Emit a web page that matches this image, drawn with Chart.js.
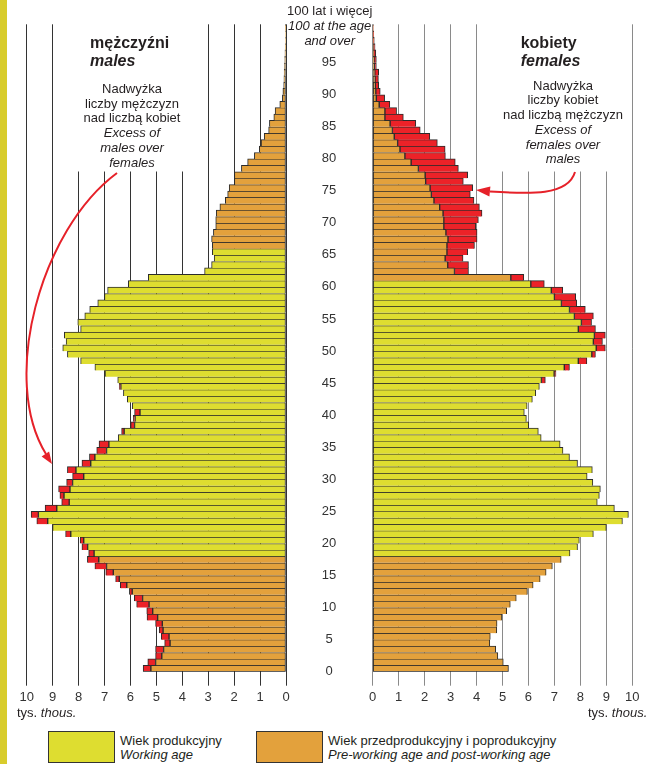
<!DOCTYPE html>
<html><head><meta charset="utf-8">
<script src="https://cdn.jsdelivr.net/npm/chart.js@4.4.1/dist/chart.umd.min.js"></script>
<style>
body{margin:0;background:#fff;}
#wrap{position:relative;width:649px;height:764px;overflow:hidden;font-family:"Liberation Sans",Arial,sans-serif;color:#231f20;}
.abs{position:absolute;white-space:nowrap;}
canvas{position:absolute;top:0;}
.t13{font-size:13px;line-height:14.7px;}
.ttl{font-size:16px;line-height:18px;font-weight:bold;}
.box{position:absolute;border:1px solid #333;box-sizing:border-box;}
</style></head>
<body>
<div id="wrap">
  <div class="abs" style="left:0;top:0;width:7px;height:764px;background:#d8cc2c;"></div>
  <canvas id="cm" width="300" height="720" style="left:0;width:300px;height:720px;"></canvas>
  <canvas id="cf" width="349" height="720" style="left:300px;width:349px;height:720px;"></canvas>

  <div class="abs" style="left:249.7px;top:2.5px;width:160px;text-align:center;font-size:13px;line-height:15px;">100 lat i więcej<br><i>100 at the age</i><br><i>and over</i></div>

  <div class="abs ttl" style="left:90px;top:34px;">mężczyźni<br><i>males</i></div>
  <div class="abs ttl" style="left:520.7px;top:34px;">kobiety<br><i>females</i></div>

  <div class="abs t13" style="left:62px;top:82px;width:140px;text-align:center;">Nadwyżka<br>liczby mężczyzn<br>nad liczbą kobiet<br><i>Excess of<br>males over<br>females</i></div>
  <div class="abs t13" style="left:493px;top:78.7px;width:140px;text-align:center;">Nadwyżka<br>liczby kobiet<br>nad liczbą mężczyzn<br><i>Excess of<br>females over<br>males</i></div>

  <div class="abs t13" style="left:17px;top:705.5px;">tys. <i>thous.</i></div>
  <div class="abs t13" style="left:588px;top:705.5px;">tys. <i>thous.</i></div>

  <div class="box" style="left:48px;top:731px;width:67px;height:32px;background:#dedd30;"></div>
  <div class="abs t13" style="left:120px;top:734px;line-height:14px;">Wiek produkcyjny<br><i>Working age</i></div>
  <div class="box" style="left:256px;top:731px;width:67px;height:32px;background:#e3a13c;"></div>
  <div class="abs t13" style="left:328px;top:734px;line-height:14px;">Wiek przedprodukcyjny i poprodukcyjny<br><i>Pre-working age and post-working age</i></div>

  <svg class="abs" style="left:0;top:0;" width="649" height="764" viewBox="0 0 649 764">
    <path d="M117,173 C40,230 0,380 46,454" fill="none" stroke="#e62129" stroke-width="2"/>
    <polygon points="52,464 41.6,456.5 49.1,451.5" fill="#e62129"/>
    <path d="M575,172 C568,196 530,194 490,191.5" fill="none" stroke="#e62129" stroke-width="2"/>
    <polygon points="476,190 490.4,186.5 489.4,196.5" fill="#e62129"/>
  </svg>
</div>
<script>
// Ages (categories)
const ages = [0,1,2,3,4,5,6,7,8,9,10,11,12,13,14,15,16,17,18,19,20,21,22,23,24,25,26,27,28,29,30,31,32,33,34,35,36,37,38,39,40,41,42,43,44,45,46,47,48,49,50,51,52,53,54,55,56,57,58,59,60,61,62,63,64,65,66,67,68,69,70,71,72,73,74,75,76,77,78,79,80,81,82,83,84,85,86,87,88,89,90,91,92,93,94,95,96,97,98,99,100];
const ageTickLabels = [0,5,10,15,20,25,30,35,40,45,50,55,60,65,70,75,80,85,90,95];
const xTickValues = [0,1,2,3,4,5,6,7,8,9,10];

// Males, thousands (total bar length) and the red "excess" part
const males = [5.51,5.33,5.03,5.03,4.68,4.81,4.89,5.03,5.36,5.37,
  5.76,5.85,6.04,6.39,6.57,6.95,7.37,7.66,7.61,7.87,
  7.94,8.50,9.00,9.61,9.83,9.29,8.65,8.72,8.77,8.46,
  8.23,8.43,7.87,7.58,7.30,7.21,6.47,6.34,5.99,5.89,
  5.84,5.93,6.12,6.27,6.43,6.49,6.98,7.37,7.92,8.43,
  8.61,8.48,8.55,7.92,8.03,7.76,7.57,7.26,7.00,6.88,
  6.08,5.31,3.14,2.87,2.77,2.84,2.84,2.87,2.80,2.71,
  2.71,2.69,2.55,2.34,2.25,2.19,1.99,1.99,1.72,1.48,
  1.22,1.03,0.96,0.84,0.67,0.64,0.47,0.42,0.24,0.14,
  0.12,0.09,0.08,0.07,0.06,0.05,0.04,0.03,0.02,0.02,
  0.01];
const malesExcess = [0.30,0.30,0.24,0.31,0.21,0.30,0.15,0.26,0.41,0.23,
  0.48,0.32,0.11,0.25,0.14,0.29,0.45,0.44,0.21,0.22,
  0.14,0.20,0,0.42,0.28,0.45,0.29,0.16,0.44,0.23,
  0.43,0.33,0.34,0.21,0.38,0.38,0,0.10,0.15,0.07,
  0.21,0,0,0,0.06,0,0,0,0,0,
  0,0,0,0,0,0,0,0,0,0,
  0,0,0,0,0,0,0,0,0,0,
  0,0,0,0,0,0,0,0,0,0,
  0,0,0,0,0,0,0,0,0,0,
  0,0,0,0,0,0,0,0,0,0,
  0];

// Females, thousands (total bar length) and the red "excess" part
const females = [5.23,5.03,4.82,4.74,4.51,4.53,4.78,4.79,4.98,5.16,
  5.30,5.53,5.96,6.18,6.45,6.68,6.92,7.26,7.60,7.89,
  7.96,8.50,9.00,9.62,9.85,9.31,8.65,8.73,8.77,8.48,
  8.26,8.46,7.89,7.58,7.33,7.22,6.49,6.38,6.01,5.92,
  5.84,5.95,6.15,6.28,6.42,6.65,7.06,7.58,8.25,8.58,
  8.96,8.85,8.96,8.58,8.43,8.50,8.19,7.86,7.82,7.32,
  6.61,5.82,3.69,3.69,3.48,3.66,3.92,4.02,4.02,3.97,
  4.07,4.21,4.11,3.90,3.76,3.85,3.49,3.66,3.30,3.18,
  2.80,2.79,2.49,2.20,1.83,1.66,1.18,0.92,0.66,0.46,
  0.29,0.23,0.22,0.23,0.14,0.14,0.12,0.09,0.06,0.04,
  0.02];
const femalesExcess = [0,0,0,0,0,0,0,0,0,0,
  0,0,0,0,0,0,0,0,0,0,
  0,0,0,0,0,0,0,0,0,0,
  0,0,0,0,0,0,0,0,0,0,
  0,0,0,0,0,0.15,0.07,0.20,0.33,0.14,
  0.35,0.35,0.42,0.66,0.39,0.73,0.61,0.59,0.82,0.44,
  0.52,0.50,0.54,0.80,0.69,0.80,1.06,1.12,1.20,1.23,
  1.33,1.50,1.53,1.54,1.50,1.64,1.45,1.64,1.54,1.70,
  1.56,1.74,1.53,1.37,1.07,0.99,0.71,0.45,0.41,0.32,
  0.17,0.13,0.13,0.15,0.08,0.09,0.09,0.07,0.04,0.03,
  0.01];

// Working-age ranges as coloured in the picture
const maleWorkingAge = [18, 65];
const femaleWorkingAge = [18, 60];

const YELLOW = '#dedd30', ORANGE = '#e3a13c', RED = '#ec2228', EDGE = '#2b2b2b';
const FONT = '"Liberation Sans", Arial, sans-serif';

function baseOf(tot, exc) { return tot.map((v, i) => +(v - exc[i]).toFixed(2)); }
function excOf(exc) { return exc.map(v => v > 0 ? v : null); }
function colorsFor(range) { return ages.map(a => (a >= range[0] && a <= range[1]) ? YELLOW : ORANGE); }
const bw = ctx => ({top: 1, left: 1, right: 1, bottom: ctx.dataIndex === 0 ? 1 : 0});

function maskPlugin(r) {
  return { id: 'mask', beforeDatasetsDraw(chart) {
    const c = chart.ctx; c.save(); c.fillStyle = '#fff'; c.fillRect(r.x, r.y, r.w, r.h); c.restore();
  }};
}

function makeChart(id, tot, exc, range, isMale) {
  const labels = ages.map(String);
  const yScale = isMale ? {
      type: 'category', labels, reverse: true, stacked: true, display: false, offset: true
    } : {
      type: 'category', labels, reverse: true, stacked: true, position: 'left', offset: true,
      grid: {display: false, drawTicks: false}, border: {display: false},
      ticks: {autoSkip: false, color: '#333', font: {size: 13, family: FONT}, crossAlign: 'center',
        padding: 36.4, labelOffset: 3,
        callback: (v) => ageTickLabels.includes(ages[v]) ? String(ages[v]) : ''},
      afterFit: s => { s.width = 72.7; s.paddingTop = 0; s.paddingBottom = 0; }
    };
  return new Chart(document.getElementById(id), {
    type: 'bar',
    data: { labels, datasets: [
      { data: baseOf(tot, exc), backgroundColor: colorsFor(range), borderColor: EDGE, borderWidth: bw,
        borderSkipped: false, barPercentage: 1, categoryPercentage: 1, stack: 's' },
      { data: excOf(exc), backgroundColor: RED, borderColor: EDGE, borderWidth: bw,
        borderSkipped: false, barPercentage: 1, categoryPercentage: 1, stack: 's' }
    ]},
    options: {
      indexAxis: 'y', responsive: false, animation: false, devicePixelRatio: 1,
      layout: { padding: isMale ? {left: 26.7, right: 14, top: 24.3, bottom: 0} : {left: 0, right: 16.7, top: 24.3, bottom: 0} },
      plugins: { legend: {display: false}, tooltip: {enabled: false} },
      scales: {
        x: { type: 'linear', min: 0, max: 10, reverse: isMale, stacked: true,
          afterBuildTicks: s => { s.ticks = xTickValues.map(v => ({value: v})); },
          ticks: {color: '#333', font: {size: 13, family: FONT}, padding: 4, maxRotation: 0, autoSkip: false},
          grid: {color: isMale ? '#333' : '#8a8a8a', lineWidth: 1, drawTicks: true, tickLength: 14},
          border: {display: false},
          afterFit: s => { s.height = 48.3; } },
        y: yScale
      }
    },
    plugins: [maskPlugin(isMale ? {x: 60, y: 0, w: 138, h: 171.5} : {x: 185, y: 0, w: 140, h: 171.5})]
  });
}

makeChart('cm', males, malesExcess, maleWorkingAge, true);
makeChart('cf', females, femalesExcess, femaleWorkingAge, false);
</script>
</body></html>
